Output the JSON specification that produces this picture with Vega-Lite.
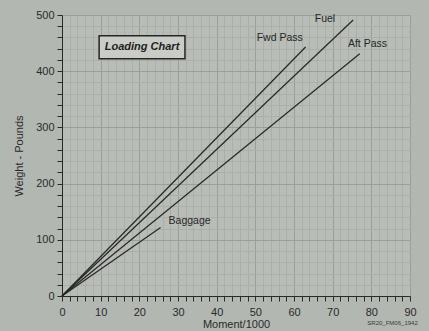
{
  "$schema": "https://vega.github.io/schema/vega-lite/v6.json",
  "width": 348,
  "height": 281,
  "autosize": {"type": "none"},
  "padding": {"left": 62, "top": 15, "right": 19, "bottom": 35},
  "background": "#b3b7b2",
  "config": {
    "view": {"stroke": null, "fill": "#b9bdb8"},
    "font": "Liberation Sans",
    "axis": {"labelFont": "Liberation Sans", "titleFont": "Liberation Sans", "labelColor": "#2a2a2a", "titleColor": "#2a2a2a", "titleFontWeight": "normal", "labelFontSize": 11, "titleFontSize": 11, "domainColor": "#2a2a2a", "tickColor": "#2a2a2a", "labelOverlap": false}
  },
  "datasets": {
    "lines": [
      {"series": "Fwd Pass", "moment": 0, "weight": 0},
      {"series": "Fwd Pass", "moment": 63, "weight": 443},
      {"series": "Fuel", "moment": 0, "weight": 0},
      {"series": "Fuel", "moment": 75.3, "weight": 491},
      {"series": "Aft Pass", "moment": 0, "weight": 0},
      {"series": "Aft Pass", "moment": 77, "weight": 431},
      {"series": "Baggage", "moment": 0, "weight": 0},
      {"series": "Baggage", "moment": 25.5, "weight": 122}
    ],
    "labels": [
      {"label": "Fwd Pass", "moment": 56.3, "weight": 459},
      {"label": "Fuel", "moment": 68, "weight": 493},
      {"label": "Aft Pass", "moment": 79, "weight": 448},
      {"label": "Baggage", "moment": 33, "weight": 134}
    ]
  },
  "layer": [
    {
      "data": {"name": "lines"},
      "mark": {"type": "line", "color": "#262626", "strokeWidth": 1.2},
      "encoding": {
        "x": {
          "field": "moment", "type": "quantitative",
          "scale": {"domain": [0, 90], "nice": false},
          "title": "Moment/1000",
          "axis": {
            "values": [0,2,4,6,8,10,12,14,16,18,20,22,24,26,28,30,32,34,36,38,40,42,44,46,48,50,52,54,56,58,60,62,64,66,68,70,72,74,76,78,80,82,84,86,88,90],
            "labelExpr": "datum.value % 10 === 0 ? datum.label : ''",
            "grid": true,
            "gridColor": {"condition": {"test": "datum.value % 10 === 0", "value": "#9a9f9a"}, "value": "#aaafaa"},
            "tickSize": 5, "labelPadding": 5, "titlePadding": 1, "labelFlush": false, "labelOverlap": false
          }
        },
        "y": {
          "field": "weight", "type": "quantitative",
          "scale": {"domain": [0, 500], "nice": false},
          "title": "Weight - Pounds",
          "axis": {
            "values": [0,20,40,60,80,100,120,140,160,180,200,220,240,260,280,300,320,340,360,380,400,420,440,460,480,500],
            "labelExpr": "datum.value % 100 === 0 ? datum.label : ''",
            "grid": true,
            "gridColor": {"condition": {"test": "datum.value % 100 === 0", "value": "#9a9f9a"}, "value": "#aaafaa"},
            "tickSize": 5, "labelPadding": 3, "titlePadding": 11, "labelFlush": false, "labelOverlap": false
          }
        },
        "detail": {"field": "series"}
      }
    },
    {
      "data": {"name": "labels"},
      "mark": {"type": "text", "font": "Liberation Sans", "fontSize": 10.5, "color": "#262626"},
      "encoding": {
        "x": {"field": "moment", "type": "quantitative", "title": "Moment/1000",
          "axis": {
            "values": [0,2,4,6,8,10,12,14,16,18,20,22,24,26,28,30,32,34,36,38,40,42,44,46,48,50,52,54,56,58,60,62,64,66,68,70,72,74,76,78,80,82,84,86,88,90],
            "labelExpr": "datum.value % 10 === 0 ? datum.label : ''",
            "grid": true,
            "gridColor": {"condition": {"test": "datum.value % 10 === 0", "value": "#9a9f9a"}, "value": "#aaafaa"},
            "tickSize": 5, "labelPadding": 5, "titlePadding": 1, "labelFlush": false, "labelOverlap": false
          }},
        "y": {"field": "weight", "type": "quantitative", "title": "Weight - Pounds",
          "axis": {
            "values": [0,20,40,60,80,100,120,140,160,180,200,220,240,260,280,300,320,340,360,380,400,420,440,460,480,500],
            "labelExpr": "datum.value % 100 === 0 ? datum.label : ''",
            "grid": true,
            "gridColor": {"condition": {"test": "datum.value % 100 === 0", "value": "#9a9f9a"}, "value": "#aaafaa"},
            "tickSize": 5, "labelPadding": 3, "titlePadding": 11, "labelFlush": false, "labelOverlap": false
          }},
        "text": {"field": "label"}
      }
    },
    {
      "data": {"values": [{"title": "Loading Chart"}]},
      "mark": {"type": "rect", "fill": "#c9ccc7", "stroke": "#262626", "strokeWidth": 1.5},
      "encoding": {
        "x": {"datum": 9.6, "type": "quantitative", "title": "Moment/1000",
          "axis": {
            "values": [0,2,4,6,8,10,12,14,16,18,20,22,24,26,28,30,32,34,36,38,40,42,44,46,48,50,52,54,56,58,60,62,64,66,68,70,72,74,76,78,80,82,84,86,88,90],
            "labelExpr": "datum.value % 10 === 0 ? datum.label : ''",
            "grid": true,
            "gridColor": {"condition": {"test": "datum.value % 10 === 0", "value": "#9a9f9a"}, "value": "#aaafaa"},
            "tickSize": 5, "labelPadding": 5, "titlePadding": 1, "labelFlush": false, "labelOverlap": false
          }},
        "x2": {"datum": 31.8},
        "y": {"datum": 463, "type": "quantitative", "title": "Weight - Pounds",
          "axis": {
            "values": [0,20,40,60,80,100,120,140,160,180,200,220,240,260,280,300,320,340,360,380,400,420,440,460,480,500],
            "labelExpr": "datum.value % 100 === 0 ? datum.label : ''",
            "grid": true,
            "gridColor": {"condition": {"test": "datum.value % 100 === 0", "value": "#9a9f9a"}, "value": "#aaafaa"},
            "tickSize": 5, "labelPadding": 3, "titlePadding": 11, "labelFlush": false, "labelOverlap": false
          }},
        "y2": {"datum": 422}
      }
    },
    {
      "data": {"values": [{"title": "Loading Chart"}]},
      "mark": {"type": "text", "font": "Liberation Sans", "fontSize": 11, "fontWeight": "bold", "fontStyle": "italic", "color": "#1e1e1e"},
      "encoding": {
        "x": {"datum": 20.7, "type": "quantitative", "title": "Moment/1000",
          "axis": {
            "values": [0,2,4,6,8,10,12,14,16,18,20,22,24,26,28,30,32,34,36,38,40,42,44,46,48,50,52,54,56,58,60,62,64,66,68,70,72,74,76,78,80,82,84,86,88,90],
            "labelExpr": "datum.value % 10 === 0 ? datum.label : ''",
            "grid": true,
            "gridColor": {"condition": {"test": "datum.value % 10 === 0", "value": "#9a9f9a"}, "value": "#aaafaa"},
            "tickSize": 5, "labelPadding": 5, "titlePadding": 1, "labelFlush": false, "labelOverlap": false
          }},
        "y": {"datum": 442.5, "type": "quantitative", "title": "Weight - Pounds",
          "axis": {
            "values": [0,20,40,60,80,100,120,140,160,180,200,220,240,260,280,300,320,340,360,380,400,420,440,460,480,500],
            "labelExpr": "datum.value % 100 === 0 ? datum.label : ''",
            "grid": true,
            "gridColor": {"condition": {"test": "datum.value % 100 === 0", "value": "#9a9f9a"}, "value": "#aaafaa"},
            "tickSize": 5, "labelPadding": 3, "titlePadding": 11, "labelFlush": false, "labelOverlap": false
          }},
        "text": {"field": "title"}
      }
    },
    {
      "data": {"values": [{"code": "SR20_FM06_1942"}]},
      "mark": {"type": "text", "font": "Liberation Sans", "fontSize": 6, "align": "right", "color": "#3a3a3a"},
      "encoding": {
        "x": {"datum": 92, "type": "quantitative", "title": "Moment/1000",
          "axis": {
            "values": [0,2,4,6,8,10,12,14,16,18,20,22,24,26,28,30,32,34,36,38,40,42,44,46,48,50,52,54,56,58,60,62,64,66,68,70,72,74,76,78,80,82,84,86,88,90],
            "labelExpr": "datum.value % 10 === 0 ? datum.label : ''",
            "grid": true,
            "gridColor": {"condition": {"test": "datum.value % 10 === 0", "value": "#9a9f9a"}, "value": "#aaafaa"},
            "tickSize": 5, "labelPadding": 5, "titlePadding": 1, "labelFlush": false, "labelOverlap": false
          }},
        "y": {"datum": -48, "type": "quantitative", "title": "Weight - Pounds",
          "axis": {
            "values": [0,20,40,60,80,100,120,140,160,180,200,220,240,260,280,300,320,340,360,380,400,420,440,460,480,500],
            "labelExpr": "datum.value % 100 === 0 ? datum.label : ''",
            "grid": true,
            "gridColor": {"condition": {"test": "datum.value % 100 === 0", "value": "#9a9f9a"}, "value": "#aaafaa"},
            "tickSize": 5, "labelPadding": 3, "titlePadding": 11, "labelFlush": false, "labelOverlap": false
          }},
        "text": {"field": "code"}
      }
    }
  ]
}
